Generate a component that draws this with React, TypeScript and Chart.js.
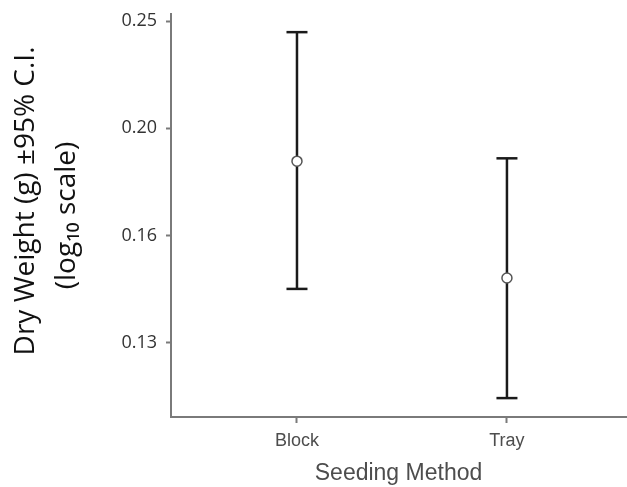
import React, { useEffect, useRef } from "react";
import { Chart, registerables } from "chart.js";

Chart.register(...registerables);

const categories = ["Block", "Tray"];
const means = [0.1868, 0.1465];
const lowerCI = [0.1432, 0.1141];
const upperCI = [0.2443, 0.1879];
const yTickValues = [0.128, 0.16, 0.2, 0.25];
const yTickLabels = ["0.13", "0.16", "0.20", "0.25"];

const ink = "#1a1a1a";
const axisGray = "#7a7a7a";

export default function App() {
  const ref = useRef<HTMLCanvasElement | null>(null);

  useEffect(() => {
    if (!ref.current) return;
    const xs = categories.map((_, i) => i + 1);

    const meanDs = {
      type: "scatter" as const,
      data: xs.map((x, i) => ({ x, y: means[i] })),
      pointStyle: "circle",
      pointRadius: 5,
      backgroundColor: "#ffffff",
      borderColor: "#555555",
      borderWidth: 1.5,
    };
    const capDs = {
      type: "scatter" as const,
      data: [
        ...xs.map((x, i) => ({ x, y: lowerCI[i] })),
        ...xs.map((x, i) => ({ x, y: upperCI[i] })),
      ],
      pointStyle: "line",
      pointRadius: 10.5,
      borderColor: ink,
      borderWidth: 2.5,
    };
    const barDs = xs.map((x, i) => ({
      type: "line" as const,
      data: [
        { x, y: lowerCI[i] },
        { x, y: upperCI[i] },
      ],
      borderColor: ink,
      borderWidth: 2.5,
      pointRadius: 0,
      fill: false,
    }));

    const chart = new Chart(ref.current, {
      type: "scatter",
      data: { datasets: [meanDs, capDs, ...barDs] as any },
      options: {
        animation: false,
        responsive: false,
        events: [],
        layout: { autoPadding: false, padding: { left: 0, top: 14, right: 1, bottom: 0 } },
        plugins: { legend: { display: false }, tooltip: { enabled: false } },
        scales: {
          x: {
            type: "linear",
            min: 0.4,
            max: 2.567,
            afterFit: (s: any) => {
              s.height = 70;
              s.paddingLeft = 0;
              s.paddingRight = 0;
            },
            afterBuildTicks: (s: any) => {
              s.ticks = xs.map((v) => ({ value: v }));
            },
            grid: {
              display: true,
              drawOnChartArea: false,
              tickLength: 6,
              tickColor: axisGray,
              tickWidth: 2,
            },
            border: { display: true, color: axisGray, width: 2 },
            ticks: {
              autoSkip: false,
              maxRotation: 0,
              padding: 7,
              color: "#4d4d4d",
              font: { family: "'Liberation Sans', Arial, sans-serif", size: 18 },
              callback: (v: any) => categories[Math.round(Number(v)) - 1] ?? "",
            },
            title: {
              display: true,
              text: "Seeding Method",
              color: "#4d4d4d",
              font: { family: "'Liberation Sans', Arial, sans-serif", size: 23 },
              padding: { top: 0, bottom: 0 },
            },
          },
          y: {
            type: "logarithmic",
            min: 0.1097,
            max: 0.2537,
            afterFit: (s: any) => {
              s.width = 171;
              s.paddingTop = 0;
              s.paddingBottom = 0;
            },
            afterBuildTicks: (s: any) => {
              s.ticks = yTickValues.map((v) => ({ value: v }));
            },
            grid: {
              display: true,
              drawOnChartArea: false,
              tickLength: 5,
              tickColor: axisGray,
              tickWidth: 2,
            },
            border: { display: true, color: axisGray, width: 2 },
            ticks: {
              autoSkip: false,
              padding: 9,
              color: "#333333",
              font: { family: "'Open Sans', sans-serif", size: 18 },
              callback: (_v: any, idx: number) => yTickLabels[idx] ?? "",
            },
            title: {
              display: true,
              text: ["    Dry Weight (g) ±95% C.I.", "(log₁₀ scale)"],
              color: "#111111",
              font: { family: "'Open Sans', sans-serif", size: 28, lineHeight: 1.45 },
              padding: { top: 6, bottom: 0 },
            },
          },
        },
      },
    });
    return () => chart.destroy();
  }, []);

  return (
    <div style={{ position: "fixed", left: 0, top: 0, width: 627, height: 487, background: "#fff" }}>
      <canvas ref={ref} width={627} height={487} style={{ display: "block" }} />
    </div>
  );
}
